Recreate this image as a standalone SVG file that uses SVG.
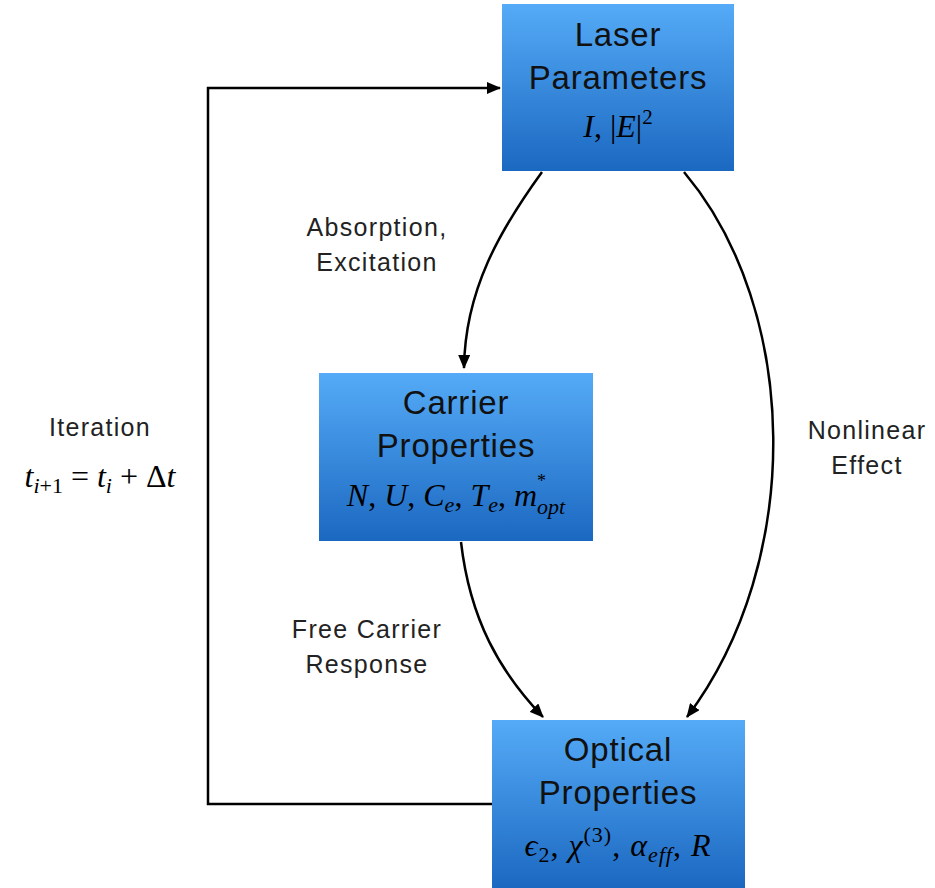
<svg xmlns="http://www.w3.org/2000/svg" width="935" height="888" viewBox="0 0 935 888">
  <defs>
    <linearGradient id="boxFill" x1="0" y1="0" x2="0" y2="1">
      <stop offset="0" stop-color="#55abf7"/>
      <stop offset="1" stop-color="#1b68c1"/>
    </linearGradient>
    <marker id="arrow" viewBox="0 0 14 12" refX="13" refY="6" markerWidth="14" markerHeight="12" markerUnits="userSpaceOnUse" orient="auto">
      <path d="M0,0 L14,6 L0,12 z" fill="#000"/>
    </marker>
    <style>
      .box { fill: url(#boxFill); }
      .title { font-family: "Helvetica Neue", "Liberation Sans", Arial, sans-serif; font-size: 33px; letter-spacing: 0.8px; fill: #111; text-anchor: middle; font-weight: 300; }
      .math { font-family: "Liberation Serif", "Times New Roman", serif; font-style: italic; font-size: 32px; fill: #000; text-anchor: middle; }
      .up { font-style: normal; }
      .label { font-family: "Helvetica Neue", "Liberation Sans", Arial, sans-serif; font-size: 25px; letter-spacing: 1.3px; fill: #222; text-anchor: middle; }
      .conn { fill: none; stroke: #000; stroke-width: 2.5; marker-end: url(#arrow); }
    </style>
  </defs>
  <rect width="935" height="888" fill="#fff"/>

  <g id="connectors">
    <path class="conn" d="M492,804 H208 V88 H500"/>
    <path class="conn" d="M542,172 C500,230 465,290 464,368"/>
    <path class="conn" d="M684,172 C800,310 805,560 687,717"/>
    <path class="conn" d="M461,542 C470,620 500,672 543,717"/>
  </g>

  <g id="laser">
    <rect class="box" x="502" y="4" width="232" height="167"/>
    <text class="title" x="618" y="46">Laser</text>
    <text class="title" x="618" y="89">Parameters</text>
    <text class="math" x="618" y="137">I<tspan class="up">, |</tspan>E<tspan class="up">|</tspan><tspan class="up" font-size="21" dy="-13">2</tspan></text>
  </g>

  <g id="carrier">
    <rect class="box" x="319" y="373" width="274" height="168"/>
    <text class="title" x="456" y="414">Carrier</text>
    <text class="title" x="456" y="457">Properties</text>
    <text class="math" x="456" y="506">N<tspan class="up">, </tspan>U<tspan class="up">, </tspan>C<tspan font-size="22" dy="6">e</tspan><tspan class="up" dy="-6">, </tspan>T<tspan font-size="22" dy="6">e</tspan><tspan class="up" dy="-6">, </tspan>m<tspan class="up" font-size="18" dy="-19">*</tspan><tspan font-size="22" dx="-9" dy="27">opt</tspan></text>
  </g>

  <g id="optical">
    <rect class="box" x="492" y="720" width="253" height="168"/>
    <text class="title" x="618" y="761">Optical</text>
    <text class="title" x="618" y="804">Properties</text>
    <text class="math" x="618" y="856" letter-spacing="1">ϵ<tspan class="up" font-size="22" dy="6">2</tspan><tspan class="up" dy="-6">, </tspan>χ<tspan class="up" font-size="22" dy="-14">(3)</tspan><tspan class="up" dy="14">, </tspan>α<tspan font-size="22" dy="6">eff</tspan><tspan class="up" dy="-6">, </tspan>R</text>
  </g>

  <g id="labels">
    <text class="label" x="377" y="236">Absorption,</text>
    <text class="label" x="377" y="271">Excitation</text>
    <text class="label" x="867" y="439">Nonlinear</text>
    <text class="label" x="867" y="474">Effect</text>
    <text class="label" x="367" y="638">Free Carrier</text>
    <text class="label" x="367" y="673">Response</text>
    <text class="label" x="100" y="436">Iteration</text>
    <text class="math" x="100" y="487">t<tspan font-size="22" dy="6">i<tspan class="up">+1</tspan></tspan><tspan class="up" dy="-6"> = </tspan>t<tspan font-size="22" dy="6">i</tspan><tspan class="up" dy="-6"> + Δ</tspan>t</text>
  </g>
</svg>
